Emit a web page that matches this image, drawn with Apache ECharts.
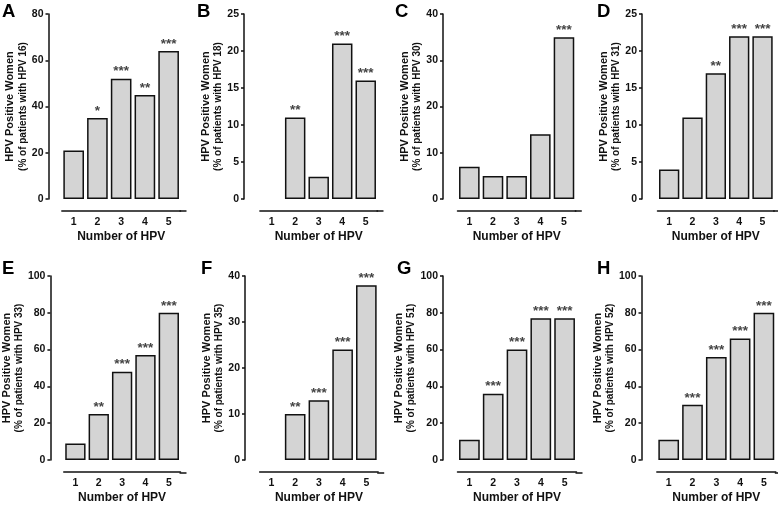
<!DOCTYPE html>
<html>
<head>
<meta charset="utf-8">
<script src="https://cdn.jsdelivr.net/npm/echarts@6/dist/echarts.min.js"></script>
<style>
html,body{margin:0;padding:0;background:#fff;}
#chart{width:778px;height:505px;}
</style>
</head>
<body>
<div id="chart"></div>
<script>
// ---- data ----
const categories = ['1', '2', '3', '4', '5'];
const hpv16 = [21, 35, 52, 45, 64];
const hpv18 = [0, 11, 3, 21, 16];
const hpv30 = [7, 5, 5, 14, 35];
const hpv31 = [4, 11, 17, 22, 22];
const hpv33 = [9, 25, 48, 57, 80];
const hpv35 = [0, 10, 13, 24, 38];
const hpv51 = [11, 36, 60, 77, 77];
const hpv52 = [11, 30, 56, 66, 80];
const stars16 = ['', '*', '***', '**', '***'];
const stars18 = ['', '**', '', '***', '***'];
const stars30 = ['', '', '', '', '***'];
const stars31 = ['', '', '**', '***', '***'];
const stars33 = ['', '**', '***', '***', '***'];
const stars35 = ['', '**', '***', '***', '***'];
const stars51 = ['', '***', '***', '***', '***'];
const stars52 = ['', '***', '***', '***', '***'];
const panelLetters = ['A', 'B', 'C', 'D', 'E', 'F', 'G', 'H'];
const hpvTypes = ['16', '18', '30', '31', '33', '35', '51', '52'];
const yMaxes = [80, 25, 40, 25, 100, 40, 100, 100];
const yIntervals = [20, 5, 10, 5, 20, 10, 20, 20];
const yAxisTitle = 'HPV Positive Women';
const xAxisTitle = 'Number of HPV';

const seriesValues = [hpv16, hpv18, hpv30, hpv31, hpv33, hpv35, hpv51, hpv52];
const seriesStars = [stars16, stars18, stars30, stars31, stars33, stars35, stars51, stars52];

// ---- layout ----
const FONT = "'Liberation Sans', Arial, sans-serif";
// [yAxisX, gridLeft, gridWidth]
const colLayout = [
  [48.5, 61.8, 118.7], [244, 259.9, 117.6], [443, 457.5, 118.3], [642, 657.5, 116.7],
  [48.5, 61.8, 118.7], [245, 259.6, 118.6], [443, 457.5, 119], [641.5, 656.8, 119]
];
const rowTop = [14, 14, 14, 14, 276, 276, 276, 276];
const gridH = 185;
const xOffset = 12;
const letterPos = [[2, 2], [197, 2], [395, 2], [597, 2], [2, 259], [201, 259], [397, 259], [597, 259]];

const grids = [], xAxes = [], yAxes = [], series = [], titles = [], graphics = [];
for (let i = 0; i < 8; i++) {
  const [ax, left, width] = colLayout[i];
  grids.push({left: left, top: rowTop[i], width: width, height: gridH});
  xAxes.push({
    type: 'category', gridIndex: i, data: categories, offset: xOffset,
    axisLine: {onZero: false, lineStyle: {color: '#111', width: 1.5}},
    axisTick: {alignWithLabel: true, length: 3, lineStyle: {color: '#111', width: 1.5}},
    axisLabel: {color: '#111', fontWeight: 'bold', fontSize: 10.5, fontFamily: FONT, margin: 6},
    name: xAxisTitle, nameLocation: 'middle', nameGap: 20,
    nameTextStyle: {color: '#111', fontWeight: 'bold', fontSize: 12, fontFamily: FONT}
  });
  yAxes.push({
    type: 'value', gridIndex: i, min: 0, max: yMaxes[i], interval: yIntervals[i],
    offset: left - ax,
    axisLine: {show: true, lineStyle: {color: '#111', width: 1.5}},
    axisTick: {show: true, length: 3, lineStyle: {color: '#111', width: 1.5}},
    splitLine: {show: false},
    axisLabel: {color: '#111', fontWeight: 'bold', fontSize: 10.5, fontFamily: FONT, margin: 5},
    name: '{a|' + yAxisTitle + '}\n{b|(% of patients with HPV ' + hpvTypes[i] + ')}',
    nameLocation: 'middle', nameRotate: 90, nameGap: 19,
    nameTextStyle: {
      fontFamily: FONT,
      rich: {
        a: {fontSize: 11, fontWeight: 'bold', color: '#111', fontFamily: FONT, lineHeight: 13},
        b: {fontSize: 10, fontWeight: 'bold', color: '#111', fontFamily: FONT, lineHeight: 12}
      }
    }
  });
  const stars = seriesStars[i];
  series.push({
    type: 'bar', xAxisIndex: i, yAxisIndex: i,
    barCategoryGap: '13%',
    data: seriesValues[i].map(v => v === 0 ? {value: 0, itemStyle: {borderWidth: 0}} : v),
    itemStyle: {color: '#d4d4d4', borderColor: '#111', borderWidth: 1.5},
    label: {
      show: true, position: 'top', distance: 0,
      formatter: p => stars[p.dataIndex],
      color: '#444', fontWeight: 'bold', fontSize: 13.5, fontFamily: FONT
    },
    silent: true, animation: false
  });
  titles.push({
    text: panelLetters[i], left: letterPos[i][0], top: letterPos[i][1], padding: 0,
    textStyle: {fontSize: 18.5, fontWeight: 'bold', color: '#000', fontFamily: FONT}
  });
  // GraphPad-style extension of the x-axis line past the last category
  const ly = rowTop[i] + gridH + xOffset;
  graphics.push({
    type: 'line', silent: true,
    shape: {x1: left + width - 1, y1: ly, x2: left + width + 6, y2: ly},
    style: {stroke: '#111', lineWidth: 1.5}
  });
}

const chart = echarts.init(document.getElementById('chart'), null, {renderer: 'canvas'});
chart.setOption({
  animation: false,
  backgroundColor: '#fff',
  title: titles,
  grid: grids,
  xAxis: xAxes,
  yAxis: yAxes,
  series: series,
  graphic: graphics
});
</script>
</body>
</html>
